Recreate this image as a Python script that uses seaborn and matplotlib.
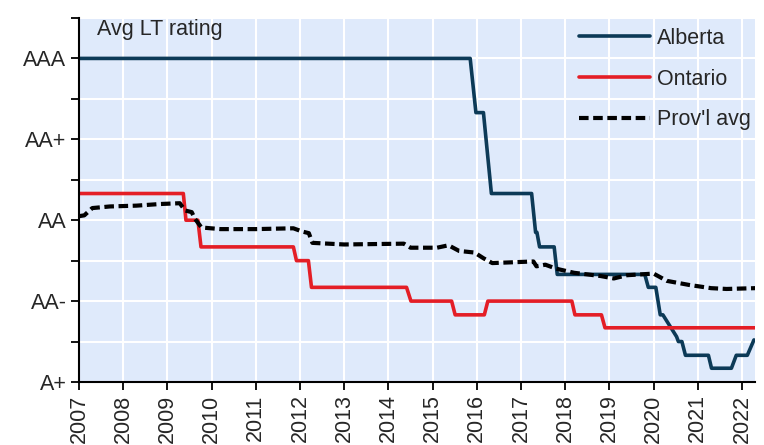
import pandas as pd
import matplotlib
matplotlib.use("Agg")
import matplotlib.pyplot as plt
import seaborn as sns

# Rating scale: A+ = 0 ... AAA = 4 (one notch per unit)
rating_labels = ["A+", "AA-", "AA", "AA+", "AAA"]

# Alberta avg long-term rating (decimal year, rating)
alberta_x = [2007.0, 2015.85, 2015.98, 2016.15, 2016.33, 2017.24, 2017.33, 2017.36,
             2017.42, 2017.75, 2017.82, 2019.8, 2019.88, 2020.05, 2020.15, 2020.21,
             2020.52, 2020.56, 2020.64, 2020.72, 2021.24, 2021.31, 2021.76, 2021.87,
             2022.12, 2022.27]
alberta_y = [4.0, 4.0, 3.33, 3.33, 2.33, 2.33, 1.85, 1.85,
             1.67, 1.67, 1.33, 1.33, 1.17, 1.17, 0.83, 0.83,
             0.56, 0.5, 0.5, 0.33, 0.33, 0.17, 0.17, 0.33,
             0.33, 0.52]

# Ontario avg long-term rating
ontario_x = [2007.0, 2009.36, 2009.42, 2009.69, 2009.76, 2011.85, 2011.92, 2012.19,
             2012.26, 2014.41, 2014.51, 2015.43, 2015.51, 2016.17, 2016.25, 2018.15,
             2018.22, 2018.82, 2018.9, 2022.3]
ontario_y = [2.33, 2.33, 2.0, 2.0, 1.67, 1.67, 1.5, 1.5,
             1.17, 1.17, 1.0, 1.0, 0.83, 0.83, 1.0, 1.0,
             0.83, 0.83, 0.67, 0.67]

# Provincial average
prov_x = [2007.0, 2007.12, 2007.3, 2007.7, 2008.3, 2008.83, 2009.28, 2009.4,
          2009.55, 2009.62, 2009.77, 2010.2, 2011.0, 2011.85, 2012.05, 2012.2,
          2012.28, 2013.0, 2014.35, 2014.5, 2015.1, 2015.36, 2015.6, 2015.95,
          2016.15, 2016.35, 2017.28, 2017.35, 2017.55, 2017.8, 2018.2, 2018.8,
          2019.1, 2019.4, 2020.0, 2020.3, 2020.8, 2021.3, 2021.65, 2022.3]
prov_y = [2.05, 2.06, 2.15, 2.17, 2.18, 2.2, 2.21, 2.12,
          2.1, 2.02, 1.91, 1.89, 1.89, 1.9, 1.86, 1.84,
          1.72, 1.7, 1.71, 1.66, 1.66, 1.69, 1.62, 1.6,
          1.53, 1.47, 1.49, 1.43, 1.45, 1.4, 1.35, 1.31,
          1.28, 1.32, 1.34, 1.25, 1.2, 1.16, 1.15, 1.16]

years = list(range(2007, 2023))

sns.set_style("whitegrid", {"axes.facecolor": "#dfeafb", "grid.color": "white",
                            "axes.edgecolor": "black"})
plt.rcParams["font.family"] = ["Liberation Sans", "DejaVu Sans"]

fig, ax = plt.subplots(figsize=(7.64, 4.45), dpi=100)
fig.subplots_adjust(left=0.1034, right=0.988, bottom=0.1416, top=0.9596)

sns.lineplot(x=alberta_x, y=alberta_y, sort=False, estimator=None, color="#0c3a57",
             lw=2.6, label="Alberta", ax=ax)
sns.lineplot(x=ontario_x, y=ontario_y, sort=False, estimator=None, color="#e41e26",
             lw=2.6, label="Ontario", ax=ax)
sns.lineplot(x=prov_x, y=prov_y, sort=False, estimator=None, color="black",
             lw=3.0, label="Prov'l avg", ax=ax)
ax.lines[2].set_dashes((2.3, 1.1))

ax.set_xlim(2007, 2022.29)
ax.set_ylim(0, 4.5)
ax.set_xticks(years)
ax.set_xticklabels([str(y) for y in years], rotation=90, fontsize=15.5)
ax.set_yticks(range(5))
ax.set_yticklabels(rating_labels, fontsize=15.5)
ax.set_yticks([0.5, 1.5, 2.5, 3.5, 4.5], minor=True)
ax.grid(True, which="both", color="white", lw=1.5)
ax.tick_params(axis="both", which="both", direction="out", length=6, width=1.3,
               color="black", left=True, bottom=True, pad=3)
ax.set_xlabel("")
ax.set_ylabel("")
sns.despine(ax=ax)
for s in ["left", "bottom"]:
    ax.spines[s].set_linewidth(1.5)

ax.text(0.027, 0.998, "Avg LT rating", transform=ax.transAxes, fontsize=15.5,
        va="top", ha="left")

leg = ax.legend(loc="upper right", bbox_to_anchor=(1.013, 1.008), frameon=False,
                fontsize=15.5, handlelength=3.3, handletextpad=0.3, labelspacing=0.91,
                borderaxespad=0.2)

fig.savefig("out.png", dpi=100)
